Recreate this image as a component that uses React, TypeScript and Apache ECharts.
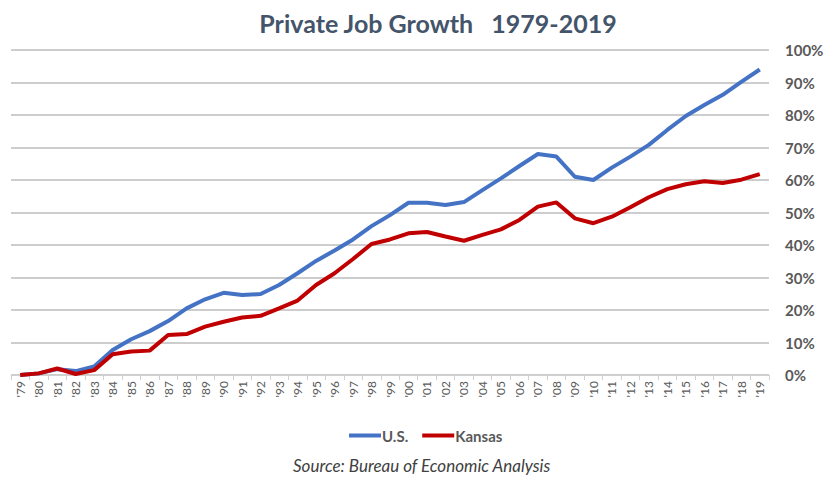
import React, { useEffect, useRef } from "react";
import * as echarts from "echarts";

const years = ["'79","'80","'81","'82","'83","'84","'85","'86","'87","'88","'89","'90","'91","'92","'93","'94","'95","'96","'97","'98","'99","'00","'01","'02","'03","'04","'05","'06","'07","'08","'09","'10","'11","'12","'13","'14","'15","'16","'17","'18","'19"];
const usValues = [0, 0.5, 1.8, 1.2, 2.6, 7.7, 11, 13.5, 16.6, 20.5, 23.3, 25.3, 24.6, 24.9, 27.7, 31.3, 35.1, 38.3, 41.7, 45.8, 49.2, 53, 53, 52.3, 53.2, 56.9, 60.5, 64.3, 68, 67.2, 61, 60, 63.8, 67.2, 70.8, 75.4, 79.7, 83.1, 86.2, 90.2, 94];
const kansasValues = [0, 0.5, 2, 0.3, 1.5, 6.4, 7.2, 7.5, 12.3, 12.6, 14.9, 16.4, 17.7, 18.2, 20.5, 22.9, 27.7, 31.3, 35.7, 40.3, 41.7, 43.6, 44, 42.6, 41.3, 43.1, 44.8, 47.7, 51.8, 53.1, 48.2, 46.7, 48.7, 51.6, 54.7, 57.2, 58.7, 59.6, 59.1, 60.1, 61.8];
const seriesNames = ["U.S.", "Kansas"];
const titleText = "Private Job Growth   1979-2019";
const sourceText = "Source: Bureau of Economic Analysis";

export default function App() {
  const ref = useRef<HTMLDivElement>(null);
  useEffect(() => {
    if (!ref.current) return;
    const chart = echarts.init(ref.current, null, { renderer: "svg" });
    const font = "Lato, 'Open Sans', sans-serif";
    chart.setOption({
      animation: false,
      backgroundColor: "#ffffff",
      title: {
        text: titleText,
        left: 433,
        textAlign: "center",
        top: 5,
        textStyle: { fontFamily: font, fontSize: 25, fontWeight: "bold", color: "#44546A" },
      },
      legend: {
        bottom: 33,
        left: 344,
        itemWidth: 32,
        itemHeight: 4,
        itemGap: 14,
        icon: "rect",
        textStyle: { fontFamily: font, fontSize: 15, fontWeight: "bold", color: "#595959", padding: [0, 0, 0, -4] },
        data: seriesNames,
      },
      graphic: [
        {
          type: "text",
          left: 293,
          top: 457,
          style: {
            text: sourceText,
            font: `italic 17px ${font}`,
            fill: "#404040",
          },
        },
      ],
      grid: { left: 11, right: 59, top: 50, bottom: 106 },
      xAxis: {
        type: "category",
        data: years,
        boundaryGap: true,
        axisLine: { lineStyle: { color: "#D0D0D0", width: 1 } },
        axisTick: { show: true, lineStyle: { color: "#D0D0D0" }, length: 5 },
        axisLabel: { rotate: 90, fontFamily: font, fontSize: 12, color: "#595959", interval: 0, margin: 6 },
      },
      yAxis: {
        type: "value",
        position: "right",
        min: 0,
        max: 100,
        interval: 10,
        axisLine: { show: false },
        axisTick: { show: false },
        axisLabel: {
          formatter: "{value}%",
          fontFamily: font,
          fontSize: 15,
          fontWeight: "bold",
          color: "#595959",
          margin: 16,
        },
        splitLine: { lineStyle: { color: "#BDBDBD", width: 1.5 } },
      },
      series: [
        {
          name: seriesNames[0],
          type: "line",
          data: usValues,
          symbol: "none",
          lineStyle: { color: "#4472C4", width: 4 },
          itemStyle: { color: "#4472C4" },
        },
        {
          name: seriesNames[1],
          type: "line",
          data: kansasValues,
          symbol: "none",
          lineStyle: { color: "#C00000", width: 4 },
          itemStyle: { color: "#C00000" },
        },
      ],
    });
    return () => chart.dispose();
  }, []);
  return <div ref={ref} style={{ width: 828, height: 481, position: "absolute", left: 0, top: 0 }} />;
}
